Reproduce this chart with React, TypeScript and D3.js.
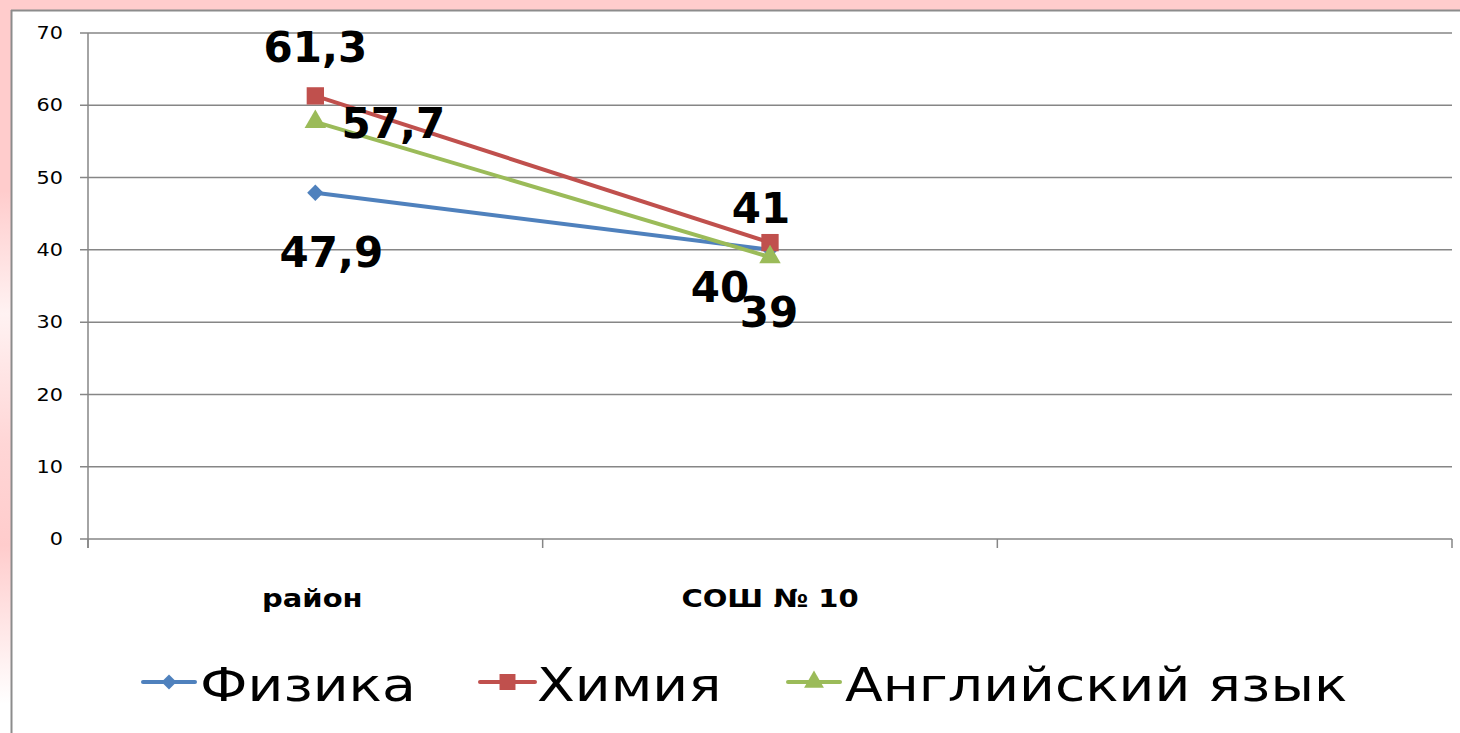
import React, { useEffect, useRef } from 'react';
import * as d3 from 'd3';

const categories = ['район', 'СОШ № 10', ''];
const yTicks = [0, 10, 20, 30, 40, 50, 60, 70];

const physics = [47.9, 40];
const chemistry = [61.3, 41];
const english = [57.7, 39];

const labelsPhysics = ['47,9', '40'];
const labelsChemistry = ['61,3', '41'];
const labelsEnglish = ['57,7', '39'];

const seriesNames = ['Физика', 'Химия', 'Английский язык'];

const App = () => {
  const chartRef = useRef(null);

  useEffect(() => {
    drawChart();
  }, []);

  // the reference font is wider than DejaVu, so stretch text to the measured width
  const stretch = (sel, factor) => {
    const node = sel.node();
    const w = node.getComputedTextLength();
    sel.attr('textLength', w * factor).attr('lengthAdjust', 'spacingAndGlyphs');
  };

  const drawChart = () => {
    const W = 1460;
    const H = 733;
    const plot = { left: 88, right: 1452, top: 33, bottom: 539 };
    const grey = '#868686';
    const font = '"DejaVu Sans", Verdana, sans-serif';

    d3.select(chartRef.current).select('svg').remove();
    const svg = d3
      .select(chartRef.current)
      .append('svg')
      .attr('width', W)
      .attr('height', H)
      .style('display', 'block')
      .style('font-family', font);

    // slide background: pink strips with a soft gradient on the left
    const defs = svg.append('defs');
    const grad = defs.append('linearGradient').attr('id', 'leftFade').attr('x1', 0).attr('y1', 0).attr('x2', 0).attr('y2', 1);
    [
      [0, '#ffcccc'],
      [0.25, '#ffcccc'],
      [0.42, '#fff2f2'],
      [0.6, '#ffd6d6'],
      [0.74, '#ffcccc'],
      [0.96, '#ffffff'],
      [1, '#ffffff'],
    ].forEach(([o, c]) => grad.append('stop').attr('offset', o).attr('stop-color', c));

    svg.append('rect').attr('width', W).attr('height', H).attr('fill', '#fff');
    svg.append('rect').attr('width', W).attr('height', 10).attr('fill', '#ffcccc');
    svg.append('rect').attr('y', 10).attr('width', 11).attr('height', H - 10).attr('fill', 'url(#leftFade)');
    svg.append('line').attr('x1', 11).attr('x2', W).attr('y1', 10.5).attr('y2', 10.5).attr('stroke', '#8c8c8c').attr('stroke-width', 2);
    svg.append('line').attr('x1', 11.5).attr('x2', 11.5).attr('y1', 10).attr('y2', H).attr('stroke', '#8c8c8c').attr('stroke-width', 2);

    const x = d3.scaleBand().domain(categories).range([plot.left, plot.right]).padding(0);
    const y = d3.scaleLinear().domain([0, 70]).range([plot.bottom, plot.top]);
    const cx = (i) => x(categories[i]) + x.bandwidth() / 2;

    // gridlines + y tick labels
    const g = svg.append('g');
    yTicks.forEach((t) => {
      g.append('line')
        .attr('x1', plot.left - 8)
        .attr('x2', plot.right)
        .attr('y1', y(t))
        .attr('y2', y(t))
        .attr('stroke', grey)
        .attr('stroke-width', 1.5);
      const lbl = g
        .append('text')
        .attr('x', 63)
        .attr('y', y(t))
        .attr('dy', '0.36em')
        .attr('text-anchor', 'end')
        .style('font-size', '17px')
        .attr('fill', '#000')
        .text(t);
      stretch(lbl, 1.22);
    });

    // y axis line
    g.append('line').attr('x1', plot.left).attr('x2', plot.left).attr('y1', plot.top).attr('y2', plot.bottom + 9).attr('stroke', grey).attr('stroke-width', 1.5);

    // x axis ticks at band edges
    const edges = categories.map((c) => x(c)).concat([plot.right]);
    edges.forEach((e) => {
      g.append('line').attr('x1', e).attr('x2', e).attr('y1', plot.bottom).attr('y2', plot.bottom + 9).attr('stroke', grey).attr('stroke-width', 1.5);
    });

    categories.forEach((c, i) => {
      if (!c) return;
      const lbl = g
        .append('text')
        .attr('x', cx(i) - (i === 0 ? 3 : 0))
        .attr('y', 607)
        .attr('text-anchor', 'middle')
        .style('font-size', '25px')
        .style('font-weight', 'bold')
        .text(c);
      stretch(lbl, 1.16);
    });

    const series = [
      { name: seriesNames[0], values: physics, labels: labelsPhysics, color: '#4f81bd', symbol: d3.symbolDiamond2, size: 170, off: [[16, 74], [-50, 52]] },
      { name: seriesNames[1], values: chemistry, labels: labelsChemistry, color: '#c0504d', symbol: d3.symbolSquare, size: 300, off: [[0, -34], [-9, -20]] },
      { name: seriesNames[2], values: english, labels: labelsEnglish, color: '#9bbb59', symbol: d3.symbolTriangle, size: 200, off: [[78, 16], [-1, 70]] },
    ];

    const line = d3
      .line()
      .x((d, i) => cx(i))
      .y((d) => y(d));

    series.forEach((s) => {
      svg.append('path').datum(s.values).attr('d', line).attr('fill', 'none').attr('stroke', s.color).attr('stroke-width', 4).attr('stroke-linejoin', 'round');
      s.values.forEach((v, i) => {
        svg
          .append('path')
          .attr('d', d3.symbol().type(s.symbol).size(s.size)())
          .attr('transform', `translate(${cx(i)},${y(v)})`)
          .attr('fill', s.color);
      });
    });

    // data labels drawn on top
    series.forEach((s) => {
      s.values.forEach((v, i) => {
        svg
          .append('text')
          .attr('x', cx(i) + s.off[i][0])
          .attr('y', y(v) + s.off[i][1])
          .attr('text-anchor', 'middle')
          .style('font-size', '42px')
          .style('font-weight', 'bold')
          .text(s.labels[i]);
      });
    });

    // legend
    const legendPos = [
      { x0: 143, x1: 195, tx: 200 },
      { x0: 480, x1: 535, tx: 537 },
      { x0: 788, x1: 840, tx: 845 },
    ];
    const ly = 682;
    series.forEach((s, i) => {
      const p = legendPos[i];
      svg.append('line').attr('x1', p.x0).attr('x2', p.x1).attr('y1', ly).attr('y2', ly).attr('stroke', s.color).attr('stroke-width', 4).attr('stroke-linecap', 'round');
      svg
        .append('path')
        .attr('d', d3.symbol().type(s.symbol).size(s.size * 0.85)())
        .attr('transform', `translate(${(p.x0 + p.x1) / 2},${ly})`)
        .attr('fill', s.color);
      const lbl = svg
        .append('text')
        .attr('x', p.tx)
        .attr('y', ly + 19)
        .style('font-size', '46px')
        .text(s.name);
      stretch(lbl, 1.2);
    });
  };

  return <div ref={chartRef} style={{ position: 'fixed', left: 0, top: 0, width: 1460, height: 733 }}></div>;
};

export default App;
